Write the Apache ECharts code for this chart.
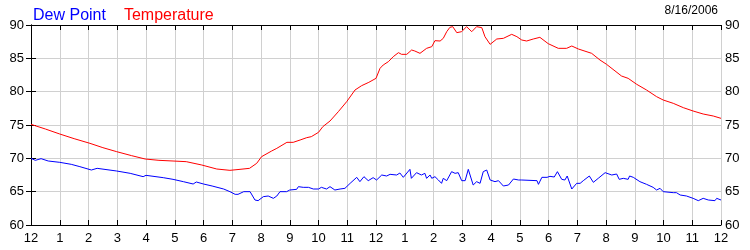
<!DOCTYPE html>
<html>
<head>
<meta charset="utf-8">
<script src="https://cdn.jsdelivr.net/npm/echarts@6/dist/echarts.min.js"></script>
<style>
html,body{margin:0;padding:0;background:#fff;}
#chart{width:750px;height:250px;}
</style>
</head>
<body>
<div id="chart"></div>
<script>
// Hours since midnight (0..24) and values (°F)
var tempHours = [0,0.5,1.0,1.5,2.05,2.5,2.98,3.5,3.97,4.45,4.94,5.4,5.94,6.46,6.92,7.27,7.6,7.85,8.02,8.37,8.55,8.9,9.12,9.36,9.59,9.75,10.0,10.15,10.4,10.69,10.98,11.27,11.5,11.75,12.0,12.14,12.25,12.43,12.6,12.78,12.89,13.07,13.24,13.35,13.53,13.76,13.94,14.05,14.23,14.34,14.46,14.57,14.67,14.81,14.98,15.15,15.33,15.5,15.68,15.79,15.97,16.2,16.43,16.72,16.9,17.07,17.24,17.47,17.7,17.99,18.34,18.63,18.81,19.04,19.5,19.79,20.02,20.54,20.77,21.07,21.41,21.76,21.99,22.34,22.69,23.03,23.38,23.73,24.0];
var tempValues = [75.1,74.4,73.65,72.95,72.25,71.6,71.0,70.4,69.9,69.7,69.6,69.5,69.0,68.4,68.2,68.35,68.5,69.25,70.25,71.1,71.5,72.4,72.4,72.75,73.1,73.25,73.9,74.75,75.6,77.0,78.5,80.25,80.9,81.4,82.0,83.5,84.0,84.5,85.25,85.85,85.6,85.6,86.25,86.1,85.75,86.5,86.75,87.65,87.6,88.0,89.0,89.65,89.75,88.85,89.0,89.75,89.0,89.75,89.6,88.25,87.1,87.9,88.0,88.6,88.25,87.75,87.6,87.9,88.15,87.2,86.5,86.5,86.85,86.4,85.75,84.75,84.1,82.35,82.0,81.1,80.25,79.25,78.75,78.25,77.6,77.1,76.65,76.35,76.0];
var dewHours = [0,0.15,0.35,0.6,1.0,1.4,1.7,2.1,2.3,2.98,3.45,3.9,4.0,4.6,4.94,5.3,5.64,5.75,6.0,6.3,6.35,6.7,6.92,7.1,7.2,7.4,7.62,7.79,7.9,8.08,8.25,8.43,8.55,8.66,8.89,9.0,9.24,9.3,9.47,9.65,9.82,10.0,10.1,10.28,10.4,10.57,10.75,10.92,11.1,11.33,11.44,11.58,11.73,11.9,12.02,12.2,12.37,12.49,12.72,12.83,12.95,13.18,13.23,13.41,13.58,13.7,13.76,13.88,13.94,14.05,14.17,14.28,14.34,14.46,14.63,14.75,14.86,14.98,15.1,15.21,15.38,15.5,15.62,15.73,15.85,15.97,16.14,16.26,16.43,16.61,16.78,16.96,17.07,17.6,17.65,17.77,17.95,18.05,18.2,18.31,18.46,18.57,18.65,18.81,18.98,19.1,19.21,19.27,19.42,19.56,19.73,19.97,20.2,20.37,20.46,20.6,20.77,20.82,20.95,21.18,21.41,21.64,21.76,21.88,21.99,22.34,22.45,22.58,22.8,23.03,23.21,23.38,23.56,23.79,23.85,24.0];
var dewValues = [70.0,69.7,69.95,69.6,69.4,69.1,68.75,68.25,68.5,68.1,67.75,67.25,67.45,67.1,66.85,66.5,66.15,66.45,66.15,65.85,66.1,65.4,65.0,64.6,64.6,65.0,65.0,63.75,63.65,64.25,64.35,64.0,64.35,65.0,65.0,65.25,65.35,65.75,65.65,65.65,65.4,65.4,65.65,65.4,65.75,65.25,65.4,65.5,66.25,67.15,66.5,67.25,66.65,67.1,66.75,67.5,67.35,67.6,67.5,67.8,67.15,68.35,67.0,67.85,67.5,67.75,67.0,67.5,67.0,67.25,66.75,66.25,67.0,66.65,68.0,67.75,67.85,66.65,66.65,68.35,66.0,66.5,66.25,68.0,68.25,66.75,66.5,66.65,65.85,66.0,66.9,66.75,66.75,66.65,66.1,67.15,67.15,67.3,67.2,68.0,66.85,66.75,67.35,65.4,66.25,66.25,66.65,66.4,67.35,66.4,67.0,67.85,67.5,67.65,66.85,67.0,66.85,67.35,67.15,66.5,66.1,65.65,65.25,65.5,65.0,64.85,64.85,64.5,64.35,64.0,63.65,64.0,63.75,63.65,64.0,63.75];
var seriesNames = ['Dew Point','Temperature'];
var seriesColors = ['#0000ff','#ff0000'];
var hourLabels = ['12','1','2','3','4','5','6','7','8','9','10','11','12','1','2','3','4','5','6','7','8','9','10','11','12'];
var dateText = '8/16/2006';

function pairs(xs, ys){ var out=[]; for(var i=0;i<xs.length;i++){ out.push([xs[i], ys[i]]); } return out; }

var FONT = "'Liberation Sans', Arial, sans-serif";
var chart = echarts.init(document.getElementById('chart'), null, {renderer:'canvas'});

var yAxisCommon = {
  type:'value', min:60, max:90, interval:5,
  axisLine:{show:true, lineStyle:{color:'#000', width:1}},
  axisTick:{show:true, inside:true, length:5, lineStyle:{color:'#000'}},
  splitLine:{show:true, lineStyle:{color:'#d0d0d0', width:1}},
  axisLabel:{color:'#000', fontSize:13, fontFamily:FONT}
};

chart.setOption({
  animation:false,
  backgroundColor:'#ffffff',
  grid:{left:31, right:29, top:25, bottom:25, containLabel:false},
  legend:{
    left:23, top:3, itemGap:13, itemWidth:0, itemHeight:0,
    textStyle:{fontSize:16, fontFamily:FONT},
    data:[
      {name:seriesNames[0], icon:'none', textStyle:{color:seriesColors[0]}},
      {name:seriesNames[1], icon:'none', textStyle:{color:seriesColors[1]}}
    ],
    selectedMode:false
  },
  graphic:[{
    type:'text', right:32, top:5,
    style:{text:dateText, fill:'#000', font:'12px ' + FONT, textAlign:'right'}
  }],
  xAxis:[{
    type:'value', min:0, max:24, interval:1, position:'bottom',
    axisLine:{show:true, onZero:false, lineStyle:{color:'#000', width:1}},
    axisTick:{show:true, inside:true, length:5, lineStyle:{color:'#000'}},
    splitLine:{show:true, lineStyle:{color:'#d0d0d0', width:1}},
    axisLabel:{color:'#000', fontSize:13, fontFamily:FONT, margin:7,
      formatter:function(v){ return hourLabels[Math.round(v)]; }}
  },{
    type:'value', min:0, max:24, interval:1, position:'top',
    axisLine:{show:true, onZero:false, lineStyle:{color:'#000', width:1}},
    axisTick:{show:true, inside:true, length:5, lineStyle:{color:'#000'}},
    splitLine:{show:false},
    axisLabel:{show:false}
  }],
  yAxis:[
    Object.assign({}, yAxisCommon, {position:'left', axisLabel:Object.assign({}, yAxisCommon.axisLabel, {margin:7})}),
    Object.assign({}, yAxisCommon, {position:'right', splitLine:{show:false}, axisLabel:Object.assign({}, yAxisCommon.axisLabel, {margin:4})})
  ],
  series:[
    {name:seriesNames[0], type:'line', data:pairs(dewHours, dewValues), showSymbol:false, symbol:'none',
     lineStyle:{color:seriesColors[0], width:1}, itemStyle:{color:seriesColors[0]}, z:3},
    {name:seriesNames[1], type:'line', data:pairs(tempHours, tempValues), showSymbol:false, symbol:'none',
     lineStyle:{color:seriesColors[1], width:1}, itemStyle:{color:seriesColors[1]}, z:4}
  ]
});
</script>
</body>
</html>
